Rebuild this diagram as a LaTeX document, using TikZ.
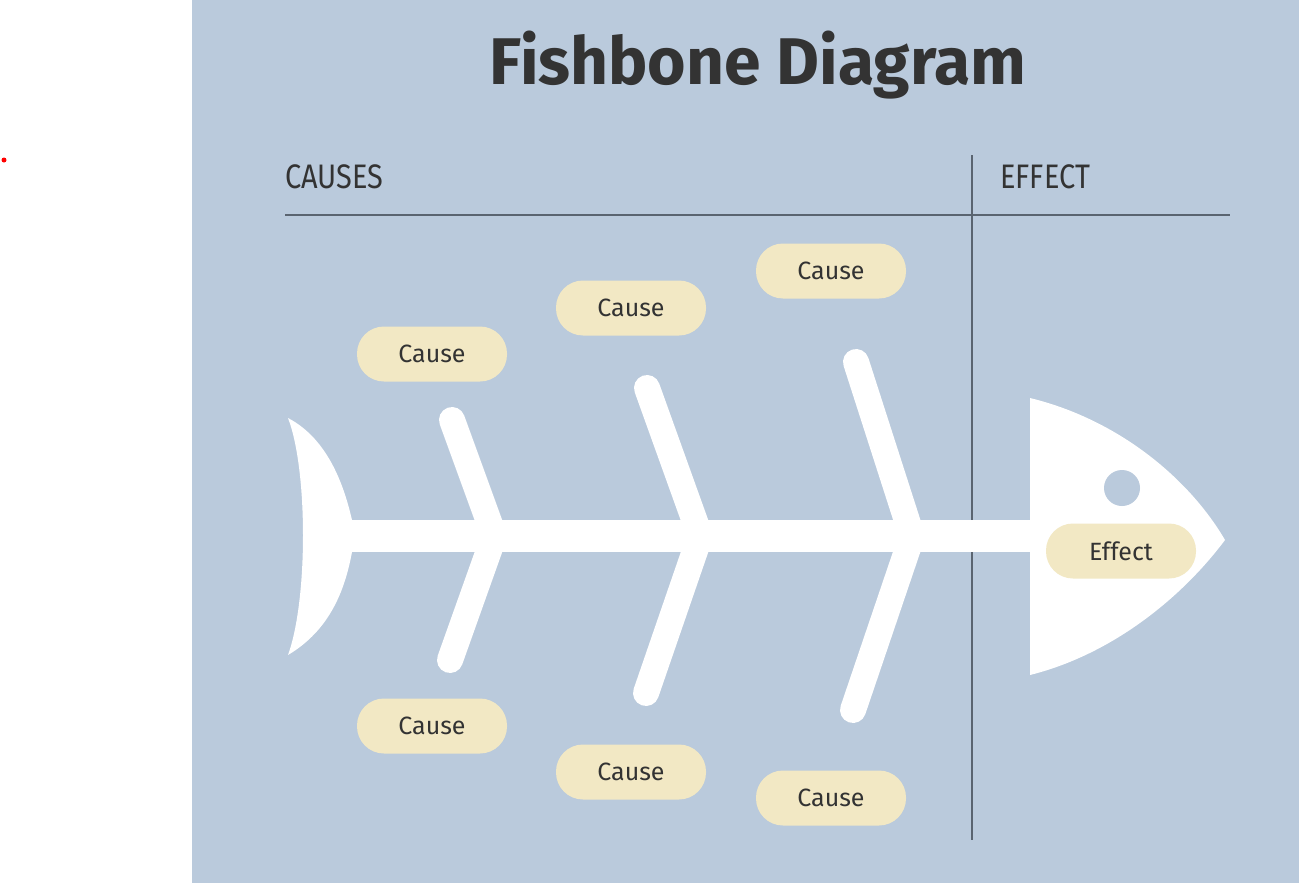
\documentclass[tikz,border=0pt]{standalone}
\usepackage{fontspec}
\setmainfont{Fira Sans}
\definecolor{bg}{HTML}{BACADC}
\definecolor{pill}{HTML}{F2E8C4}
\definecolor{ink}{HTML}{333333}
\definecolor{rule}{HTML}{5A6470}
\begin{document}
\begin{tikzpicture}[x=1pt,y=-1pt,
  bone/.style={white,line width=26pt,line cap=round},
  pillbox/.style={fill=pill,rounded corners=27pt,minimum width=150pt,minimum height=55pt,inner sep=0pt,text=ink,font=\fontsize{25}{28}\selectfont}]
\useasboundingbox (0,0) rectangle (1299,883);
\fill[white] (0,0) rectangle (192,883);
\fill[bg] (192,0) rectangle (1299,883);
\fill[red] (4,160) circle (2.5pt);
\node[text=ink,font=\fontsize{66}{70}\selectfont\bfseries] (title) at (758,65) {Fishbone Diagram};
\node[anchor=west,text=ink,font=\fontsize{34}{38}\selectfont,xscale=0.85,inner sep=0pt] (causes) at (285,177) {CAUSES};
\node[anchor=west,text=ink,font=\fontsize{34}{38}\selectfont,xscale=0.85,inner sep=0pt] (effect) at (1000,177) {EFFECT};
\draw[rule,line width=1.3pt] (285,215) -- (1230,215);
\draw[rule,line width=1.3pt] (972,155) -- (972,840);
% tail
\fill[white] (288,418) .. controls (330,440) and (345,490) .. (352,520) -- (352,552) .. controls (345,590) and (330,630) .. (288,655) .. controls (308,600) and (308,470) .. (288,418) -- cycle;
% spine
\fill[white] (340,520) rectangle (1040,552);
% head
\fill[white] (1030,398) .. controls (1120,420) and (1190,480) .. (1225,540) .. controls (1180,600) and (1110,655) .. (1030,675) -- cycle;
\fill[bg] (1122,488) circle (18pt);
% bones
\draw[bone] (452,420) -- (492,530);
\draw[bone] (492,542) -- (450,660);
\draw[bone] (647,388) -- (698,530);
\draw[bone] (698,542) -- (646,693);
\draw[bone] (856,362) -- (910,530);
\draw[bone] (910,542) -- (853,710);
\node[pillbox] (c1) at (432,354) {Cause};
\node[pillbox] (c2) at (631,308) {Cause};
\node[pillbox] (c3) at (831,271) {Cause};
\node[pillbox] (c4) at (432,726) {Cause};
\node[pillbox] (c5) at (631,772) {Cause};
\node[pillbox] (c6) at (831,798) {Cause};
\node[pillbox] (e) at (1121,551) {Effect};
\end{tikzpicture}
\end{document}
